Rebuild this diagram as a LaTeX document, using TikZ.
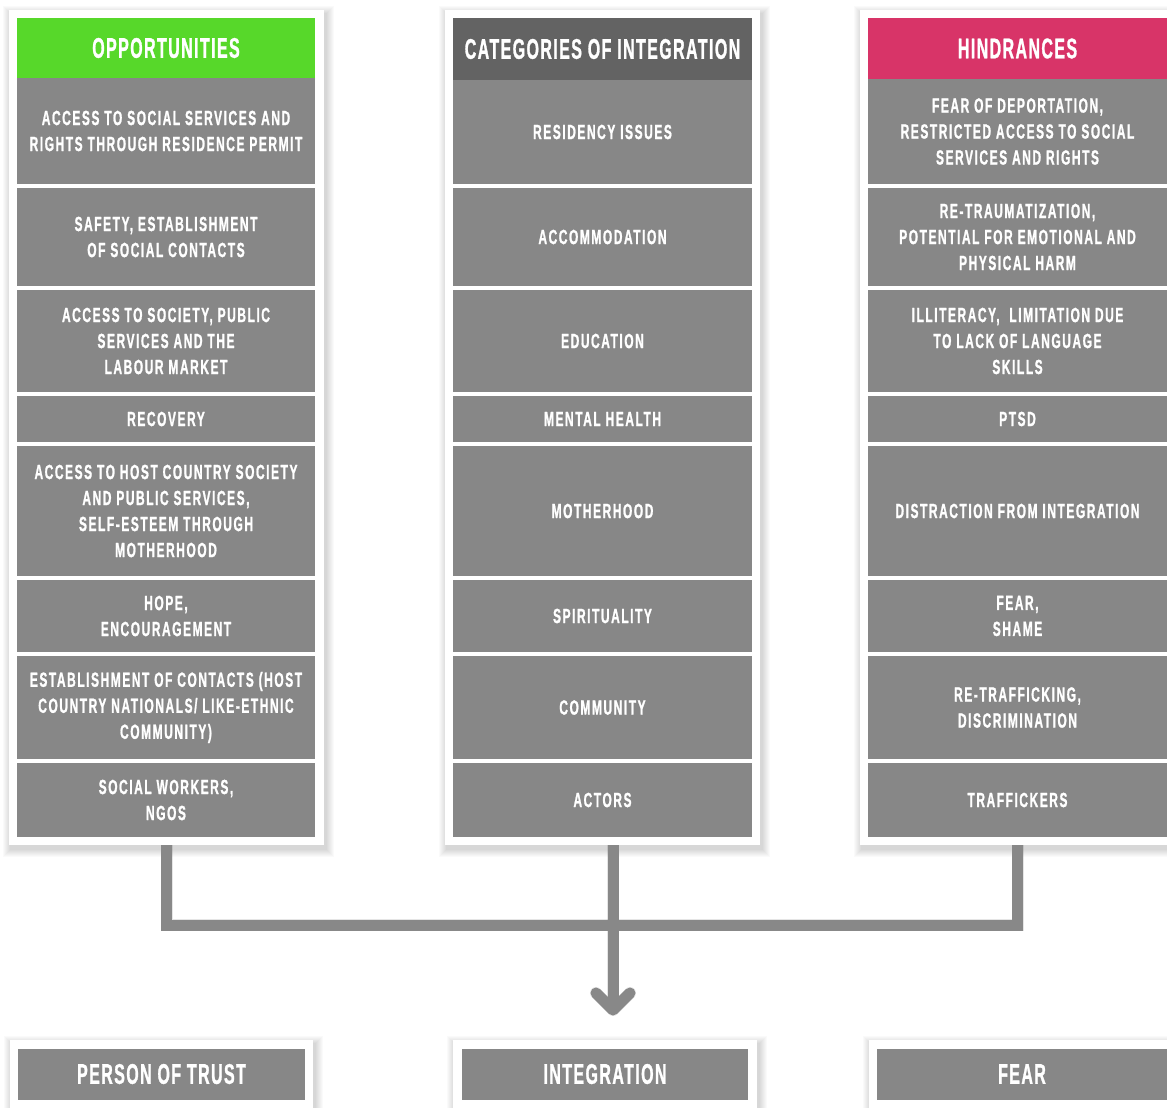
\documentclass[tikz,border=0pt]{standalone}
\usepackage{fontspec}
\newfontfamily\bebas{Liberation Sans}[FakeStretch=0.585,LetterSpace=7.5,FakeBold=1]
\newfontfamily\bebashead{Liberation Sans}[FakeStretch=0.56,LetterSpace=5,FakeBold=1]
\usetikzlibrary{calc}
\definecolor{cellgray}{HTML}{878787}
\definecolor{linegray}{HTML}{888888}
\definecolor{hgreen}{HTML}{57D82A}
\definecolor{hdark}{HTML}{636363}
\definecolor{hpink}{HTML}{D83468}
\newcommand\softshadow[4]{%
  \foreach \k in {1,...,8}{\fill[black,opacity=0.02] (#1-\k+2,#2-\k+4) rectangle (#3+\k+2,#4+\k+4);}}
\tikzset{
  panelbox/.style={fill=white, inner sep=0pt, outer sep=0pt},
  cellbox/.style={fill=cellgray, text=white, inner sep=0pt, outer sep=0pt, align=center,
    font=\bebas\bfseries\fontsize{20.5}{26}\selectfont},
  hdrbox/.style={cellbox, font=\bebashead\bfseries\fontsize{28.5}{32}\selectfont},
  conn/.style={draw=linegray, line width=11pt},
  connshadow/.style={draw=black, opacity=0.10, line width=12pt, xshift=2pt, yshift=-3pt},
}
\begin{document}
\begin{tikzpicture}[x=1pt,y=-1pt]
\useasboundingbox (0,0) rectangle (1167,1108);
\clip (0,0) rectangle (1167,1108);
\fill[white] (0,0) rectangle (1167,1108);

% shadows
\softshadow{9}{10}{324}{845}
\softshadow{445}{10}{760}{845}
\softshadow{860}{10}{1175}{845}
\softshadow{10}{1040}{313}{1115}
\softshadow{453}{1040}{757}{1115}
\softshadow{869}{1040}{1175}{1115}

% panels
\node[panelbox, minimum width=315, minimum height=835] (Lpanel) at (166.5,427.5) {};
\node[panelbox, minimum width=315, minimum height=835] (Mpanel) at (602.5,427.5) {};
\node[panelbox, minimum width=315, minimum height=835] (Rpanel) at (1017.5,427.5) {};
\node[panelbox, minimum width=303, minimum height=75] (BLpanel) at (161.5,1077.5) {};
\node[panelbox, minimum width=304, minimum height=75] (BMpanel) at (605,1077.5) {};
\node[panelbox, minimum width=306, minimum height=75] (BRpanel) at (1022,1077.5) {};

% left column
\node[hdrbox, fill=hgreen, minimum width=298, minimum height=60] (Lh) at (166,48) {OPPORTUNITIES};
\node[cellbox, minimum width=298, minimum height=106] (L1) at (166,131) {ACCESS TO SOCIAL SERVICES AND\\RIGHTS THROUGH RESIDENCE PERMIT};
\node[cellbox, minimum width=298, minimum height=98] (L2) at (166,237) {SAFETY, ESTABLISHMENT\\OF SOCIAL CONTACTS};
\node[cellbox, minimum width=298, minimum height=102] (L3) at (166,341) {ACCESS TO SOCIETY, PUBLIC\\SERVICES AND THE\\LABOUR MARKET};
\node[cellbox, minimum width=298, minimum height=46] (L4) at (166,419) {RECOVERY};
\node[cellbox, minimum width=298, minimum height=130] (L5) at (166,511) {ACCESS TO HOST COUNTRY SOCIETY\\AND PUBLIC SERVICES,\\SELF-ESTEEM THROUGH\\MOTHERHOOD};
\node[cellbox, minimum width=298, minimum height=72] (L6) at (166,616) {HOPE,\\ENCOURAGEMENT};
\node[cellbox, minimum width=298, minimum height=103] (L7) at (166,707.5) {ESTABLISHMENT OF CONTACTS (HOST\\COUNTRY NATIONALS/ LIKE-ETHNIC\\COMMUNITY)};
\node[cellbox, minimum width=298, minimum height=74] (L8) at (166,800) {SOCIAL WORKERS,\\NGOS};

% middle column
\node[hdrbox, fill=hdark, minimum width=299, minimum height=62] (Mh) at (602.5,49) {CATEGORIES OF INTEGRATION};
\node[cellbox, minimum width=299, minimum height=104] (M1) at (602.5,132) {RESIDENCY ISSUES};
\node[cellbox, minimum width=299, minimum height=98] (M2) at (602.5,237) {ACCOMMODATION};
\node[cellbox, minimum width=299, minimum height=102] (M3) at (602.5,341) {EDUCATION};
\node[cellbox, minimum width=299, minimum height=46] (M4) at (602.5,419) {MENTAL HEALTH};
\node[cellbox, minimum width=299, minimum height=130] (M5) at (602.5,511) {MOTHERHOOD};
\node[cellbox, minimum width=299, minimum height=72] (M6) at (602.5,616) {SPIRITUALITY};
\node[cellbox, minimum width=299, minimum height=103] (M7) at (602.5,707.5) {COMMUNITY};
\node[cellbox, minimum width=299, minimum height=74] (M8) at (602.5,800) {ACTORS};

% right column
\node[hdrbox, fill=hpink, minimum width=299, minimum height=61] (Rh) at (1017.5,48.5) {HINDRANCES};
\node[cellbox, minimum width=299, minimum height=105] (R1) at (1017.5,131.5) {FEAR OF DEPORTATION,\\RESTRICTED ACCESS TO SOCIAL\\SERVICES AND RIGHTS};
\node[cellbox, minimum width=299, minimum height=98] (R2) at (1017.5,237) {RE-TRAUMATIZATION,\\POTENTIAL FOR EMOTIONAL AND\\PHYSICAL HARM};
\node[cellbox, minimum width=299, minimum height=102] (R3) at (1017.5,341) {ILLITERACY,\ \ LIMITATION DUE\\TO LACK OF LANGUAGE\\SKILLS};
\node[cellbox, minimum width=299, minimum height=46] (R4) at (1017.5,419) {PTSD};
\node[cellbox, minimum width=299, minimum height=130] (R5) at (1017.5,511) {DISTRACTION FROM INTEGRATION};
\node[cellbox, minimum width=299, minimum height=72] (R6) at (1017.5,616) {FEAR,\\SHAME};
\node[cellbox, minimum width=299, minimum height=103] (R7) at (1017.5,707.5) {RE-TRAFFICKING,\\DISCRIMINATION};
\node[cellbox, minimum width=299, minimum height=74] (R8) at (1017.5,800) {TRAFFICKERS};

% bottom boxes
\node[hdrbox, minimum width=287, minimum height=51] (B1) at (161.5,1074) {PERSON OF TRUST};
\node[hdrbox, minimum width=286, minimum height=51] (B2) at (605,1074) {INTEGRATION};
\node[hdrbox, minimum width=290, minimum height=51] (B3) at (1022,1074) {FEAR};

% connectors
\coordinate (hmid) at (613,925);
\coordinate (tip) at (613,1010);
\draw[connshadow] (Lpanel.south) |- (hmid) -| (Rpanel.south);
\draw[connshadow] (Mpanel.south -| hmid) -- (tip);
\draw[connshadow, line cap=round, line join=round] ($(tip)+(-17,-17)$) -- (tip) -- ($(tip)+(17,-17)$);
\draw[conn] (Lpanel.south) |- (hmid) -| (Rpanel.south);
\draw[conn] (Mpanel.south -| hmid) -- (tip);
\draw[conn, line cap=round, line join=round] ($(tip)+(-17,-17)$) -- (tip) -- ($(tip)+(17,-17)$);
\end{tikzpicture}
\end{document}
